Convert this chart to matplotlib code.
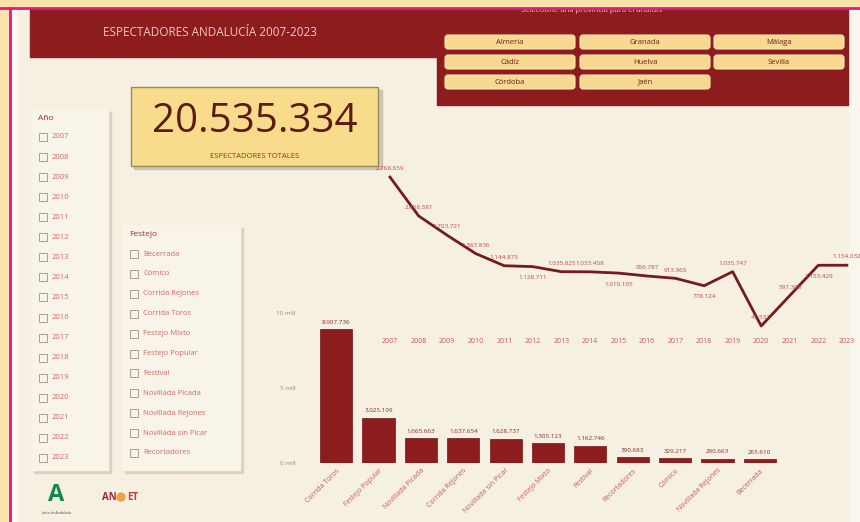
import matplotlib
matplotlib.use("Agg")
import matplotlib.pyplot as plt
from matplotlib.patches import Rectangle, FancyBboxPatch, Circle

# --- DATOS ---
anios = list(range(2007, 2024))
espectadores_anio = [2768659, 2058581, 1703721, 1367836, 1144875, 1128711, 1035825,
                     1033458, 1010105, 956787, 913965, 778124, 1035747, 41537,
                     597300, 1153429, 1154032]

festejos = ["Corrida Toros", "Festejo Popular", "Novillada Picada", "Corrida Rejones",
            "Novillada sin Picar", "Festejo Mixto", "Festival", "Recortadores",
            "Cómico", "Novillada Rejones", "Becerrada"]
espectadores_festejo = [8907736, 3025109, 1665663, 1637654, 1628737, 1305123,
                        1162746, 390683, 329217, 290663, 265610]

total = "20.535.334"
provincias = [["Almería", "Granada", "Málaga"],
              ["Cádiz", "Huelva", "Sevilla"],
              ["Córdoba", "Jaén", None]]
lista_festejo = ["Becerrada", "Cómico", "Corrida Rejones", "Corrida Toros", "Festejo Mixto",
                 "Festejo Popular", "Festival", "Novillada Picada", "Novillada Rejones",
                 "Novillada sin Picar", "Recortadores"]

# --- ESTILO ---
W, H = 860, 522
AMARILLO = "#f8e4aa"
BEIGE = "#f5f0e1"
GRANATE = "#8c1c1e"
ROSA = "#c8585a"
plt.rcParams['font.family'] = ['Open Sans', 'DejaVu Sans']


def fr(x0, y0, x1, y1):
    return [x0 / W, 1 - y1 / H, (x1 - x0) / W, (y1 - y0) / H]


def miles(v):
    return f"{v:,}".replace(",", ".")


fig = plt.figure(figsize=(W / 100, H / 100), dpi=100, facecolor=AMARILLO)
bg = fig.add_axes([0, 0, 1, 1])
bg.set_xlim(0, W)
bg.set_ylim(H, 0)
bg.axis("off")

# fondo y marco
bg.add_patch(Rectangle((10, 8), W - 10, H - 8, color=BEIGE, zorder=0))
bg.add_patch(Rectangle((849, 8), W - 849, H - 8, color="#f9f6ee", zorder=0.5))
bg.add_patch(Rectangle((11, 8), 6, H - 8, color="#fbf9f3", zorder=0.5))

# cabecera
bg.add_patch(Rectangle((30, 8), 410, 49, color=GRANATE, zorder=1))
bg.add_patch(Rectangle((437, 8), 411, 97, color=GRANATE, zorder=1))
bg.text(210, 33, "ESPECTADORES ANDALUCÍA 2007-2023", color="#f2c9c0", fontsize=8.5,
        ha="center", va="center", zorder=2)
bg.text(592, 11, "Seleccione una provincia para el análisis", color="#ecc8c0",
        fontsize=5.5, ha="center", va="center", zorder=2)

# botones provincias
col_x = [445, 580, 714]
fila_y = [35, 55, 75]
for i, fila in enumerate(provincias):
    for j, prov in enumerate(fila):
        if prov is None:
            continue
        x0, y0 = col_x[j], fila_y[i]
        bg.add_patch(FancyBboxPatch((x0, y0), 130, 14, boxstyle="round,pad=0,rounding_size=3",
                                    fc="#f7d992", ec="#fbe6b4", lw=0.8, zorder=2))
        bg.text(x0 + 65, y0 + 7, prov, color="#6e2018", fontsize=5.5,
                ha="center", va="center", zorder=3)

# franja superior y línea rosa
bg.add_patch(Rectangle((0, 0), W, 7, color=AMARILLO, zorder=5))
bg.plot([0, W], [7.5, 7.5], color="#e8168a", lw=2, zorder=6)
bg.add_patch(Rectangle((0, 0), 9, H, color=AMARILLO, zorder=5))
bg.plot([9.5, 9.5], [7.5, H], color="#e8168a", lw=2, zorder=6)

# tarjeta KPI
bg.add_patch(Rectangle((134, 90), 248, 79, color="#b9b09a", alpha=0.6, zorder=1))
bg.add_patch(Rectangle((131, 87), 247, 79, fc="#f8dc8c", ec="#9a8a58", lw=1, zorder=2))
bg.text(255, 122, total, color="#5c1a10", fontsize=29, ha="center", va="center", zorder=3)
bg.text(255, 156, "ESPECTADORES TOTALES", color="#8a3a1e", fontsize=5.5,
        ha="center", va="center", zorder=3)

# segmentadores
def slicer(x0, y0, x1, y1, titulo, items, y_first, paso):
    bg.add_patch(Rectangle((x0 + 3, y0 + 3), x1 - x0, y1 - y0, color="#d9d2bf", zorder=1))
    bg.add_patch(Rectangle((x0, y0), x1 - x0, y1 - y0, color="#f8f4ea", zorder=1.5))
    bg.text(x0 + 7, y0 + 9, titulo, color="#a02a30", fontsize=6, ha="left", va="center", zorder=2)
    for k, it in enumerate(items):
        yy = y_first + k * paso
        bg.add_patch(Rectangle((x0 + 8, yy - 4), 8, 8, fc="none", ec="#9a9088", lw=0.6, zorder=2))
        bg.text(x0 + 21, yy, it, color="#d06a6a", fontsize=5.5, ha="left", va="center", zorder=2)

slicer(31, 109, 108, 470, "Año", [str(a) for a in anios], 137, 20.06)
slicer(122, 225, 240, 470, "Festejo", lista_festejo, 254, 19.9)

# logos
bg.text(56, 495, "A", color="#118a4a", fontsize=17, fontweight="bold",
        ha="center", va="center", zorder=2)
bg.text(56, 512, "Junta de Andalucía", color="#444444", fontsize=2.5,
        ha="center", va="center", zorder=2)
bg.text(109, 497, "AN", color="#a8282a", fontsize=7, fontweight="bold",
        ha="center", va="center", zorder=2)
bg.add_patch(Circle((121, 497), 4, color="#f2a048", zorder=2))
bg.text(133, 497, "ET", color="#c83a30", fontsize=7, fontweight="bold",
        ha="center", va="center", zorder=2)

# --- GRÁFICO DE LÍNEA ---
ax1 = fig.add_axes(fr(380, 165, 858, 335))
ax1.patch.set_alpha(0)
ax1.plot(anios, espectadores_anio, color="#761a1c", lw=2, zorder=3)
ax1.set_xlim(2006.65, 2023.39)
ax1.set_ylim(-0.124e6, 2.99e6)
ax1.set_xticks(anios)
ax1.set_xticklabels([str(a) for a in anios], fontsize=5, color=ROSA)
ax1.tick_params(axis="x", length=0, pad=2)
ax1.set_yticks([])
for s in ax1.spines.values():
    s.set_visible(False)
pos_etiqueta = ["a", "a", "a", "a", "a", "b", "a", "a", "b", "a", "a", "b", "a", "a", "a", "b", "a"]
for a, v, p in zip(anios, espectadores_anio, pos_etiqueta):
    dy = 6 if p == "a" else -8
    ax1.annotate(miles(v), (a, v), xytext=(0, dy), textcoords="offset points",
                 ha="center", va="center", fontsize=4.5, color="#c0484a", zorder=4)

# --- GRÁFICO DE BARRAS ---
ax2 = fig.add_axes(fr(315, 300, 781, 463))
ax2.patch.set_alpha(0)
x = range(len(festejos))
ax2.bar(x, espectadores_festejo, width=0.76, color=GRANATE, edgecolor="#6e1416", lw=0.5, zorder=3)
ax2.set_xlim(-0.5, len(festejos) - 0.5)
ax2.set_ylim(0, 10.87e6)
ax2.set_yticks([0, 5e6, 10e6])
ax2.set_yticklabels(["0 mill", "5 mill", "10 mill"], fontsize=4.5, color="#9a8a80")
ax2.tick_params(axis="y", length=0, pad=14)
ax2.set_xticks(list(x))
ax2.set_xticklabels(festejos, rotation=45, ha="right", rotation_mode="anchor",
                    fontsize=5, color=ROSA)
ax2.tick_params(axis="x", length=0, pad=3)
for s in ax2.spines.values():
    s.set_visible(False)
for i, v in zip(x, espectadores_festejo):
    ax2.annotate(miles(v), (i, v), xytext=(0, 5), textcoords="offset points",
                 ha="center", va="center", fontsize=4.5, color="#8a2a2a", zorder=4)

fig.savefig("out.png", dpi=100, facecolor=AMARILLO)
